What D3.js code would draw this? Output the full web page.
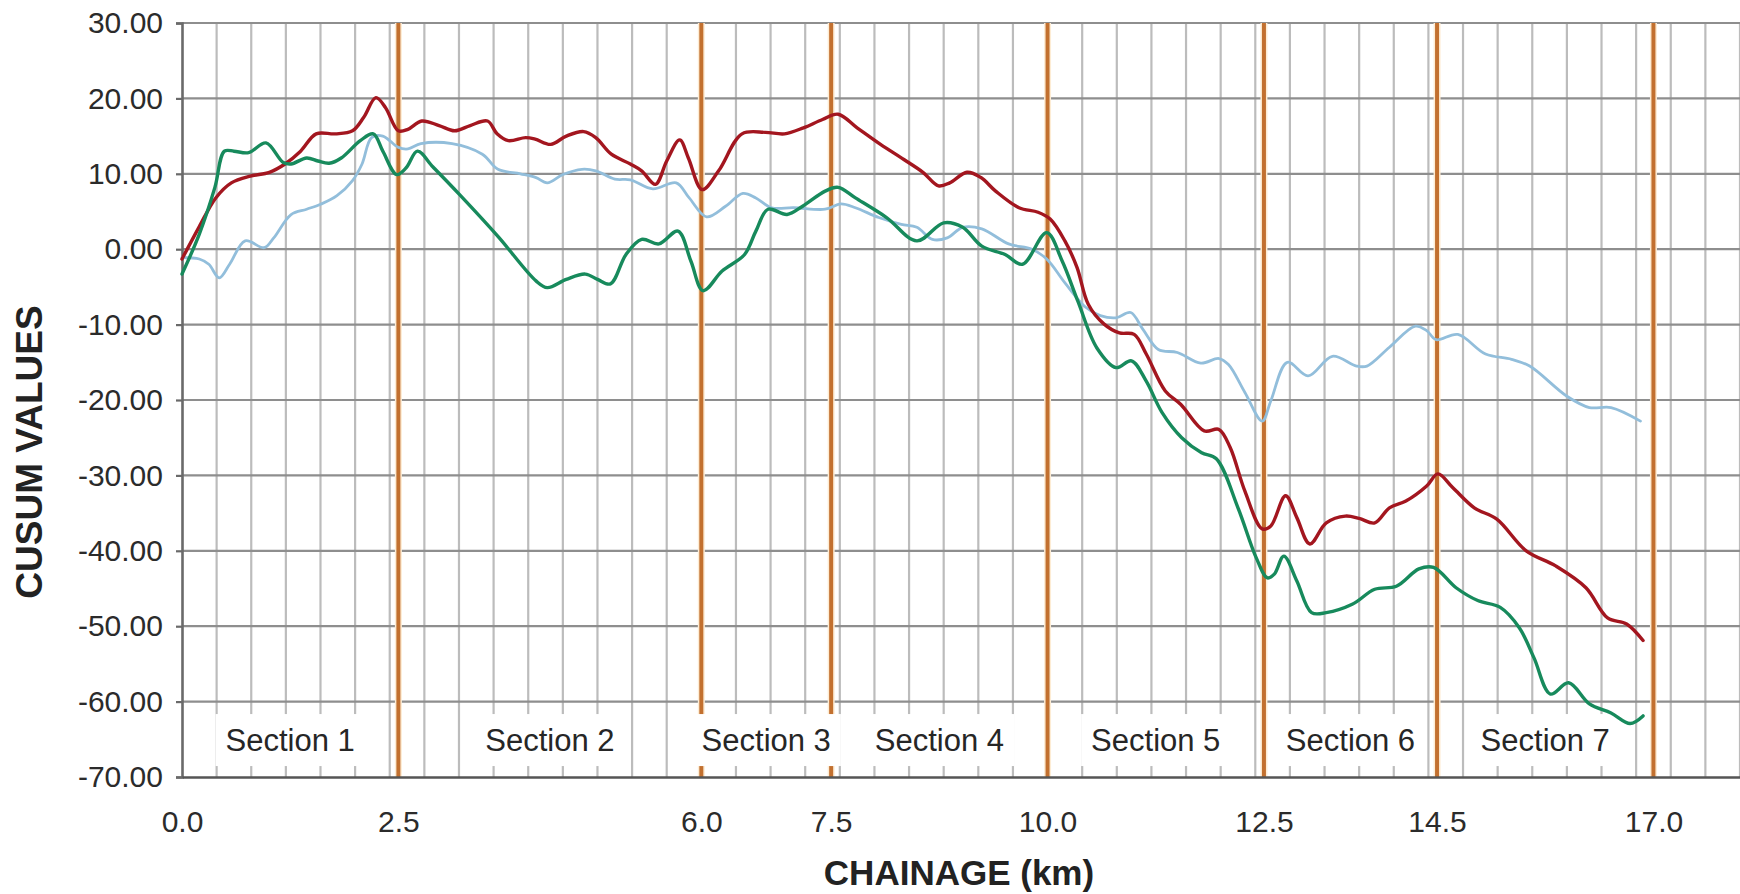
<!DOCTYPE html>
<html>
<head>
<meta charset="utf-8">
<script src="https://cdn.jsdelivr.net/npm/d3@7"></script>
<style>
  html, body { margin: 0; padding: 0; background: #ffffff; }
  svg { display: block; }
  text { font-family: "Liberation Sans", Arial, sans-serif; }
</style>
</head>
<body>
<svg id="chart" width="1740" height="894"></svg>
<script>
// Section boundaries along the road (km) and their axis labels
const sectionBounds = [0, 2.5, 6.0, 7.5, 10.0, 12.5, 14.5, 17.0];
const sectionNames = ["Section 1", "Section 2", "Section 3", "Section 4", "Section 5", "Section 6", "Section 7"];
const yTicks = [-70, -60, -50, -40, -30, -20, -10, 0, 10, 20, 30];

// CUSUM series: [chainage km, cusum value]
const cusumRed = [
  [0.00, -1.3], [0.20, 3.0], [0.39, 6.8], [0.57, 8.8], [0.79, 9.7], [1.01, 10.2], [1.19, 11.3],
  [1.37, 13.0], [1.55, 15.3], [1.77, 15.3], [1.97, 15.7], [2.10, 17.5], [2.24, 20.1], [2.35, 18.8],
  [2.50, 15.7], [2.61, 15.9], [2.77, 17.0], [2.97, 16.4], [3.15, 15.7], [3.33, 16.4], [3.53, 17.0],
  [3.64, 15.3], [3.77, 14.4], [3.97, 14.8], [4.08, 14.6], [4.26, 13.9], [4.44, 15.0], [4.64, 15.6],
  [4.78, 14.8], [4.96, 12.6], [5.18, 11.3], [5.31, 10.4], [5.47, 8.6], [5.60, 11.7], [5.75, 14.5],
  [5.85, 12.1], [6.01, 7.9], [6.20, 10.4], [6.47, 15.3], [6.74, 15.5], [6.96, 15.3], [7.18, 16.1],
  [7.40, 17.2], [7.58, 17.9], [7.80, 16.1], [8.07, 13.9], [8.34, 11.9], [8.56, 10.2], [8.74, 8.4],
  [8.87, 8.8], [9.07, 10.2], [9.23, 9.5], [9.40, 7.7], [9.67, 5.5], [9.89, 4.9], [10.03, 4.0],
  [10.20, 1.1], [10.34, -2.4], [10.47, -7.3], [10.65, -9.9], [10.83, -11.1], [11.00, -11.3],
  [11.14, -13.9], [11.36, -18.8], [11.54, -20.6], [11.81, -24.1], [11.98, -23.9], [12.11, -26.3],
  [12.28, -32.1], [12.48, -37.1], [12.58, -36.7], [12.75, -32.7], [12.88, -35.6], [13.03, -39.1],
  [13.22, -36.3], [13.44, -35.4], [13.60, -35.7], [13.78, -36.3], [13.95, -34.3], [14.14, -33.4],
  [14.38, -31.4], [14.51, -29.8], [14.68, -31.6], [14.93, -34.3], [15.19, -35.8], [15.53, -40.0],
  [15.87, -42.0], [16.22, -44.9], [16.47, -48.9], [16.69, -49.7], [16.88, -51.9]
];

const cusumGreen = [
  [0.00, -3.3], [0.20, 2.0], [0.38, 8.2], [0.49, 13.0], [0.60, 13.0], [0.77, 12.8], [0.97, 14.1],
  [1.17, 11.5], [1.26, 11.3], [1.44, 12.1], [1.57, 11.7], [1.70, 11.4], [1.84, 12.1], [2.06, 14.4],
  [2.21, 15.3], [2.32, 13.0], [2.48, 9.9], [2.59, 10.8], [2.72, 13.0], [2.90, 10.9], [3.21, 7.2],
  [3.65, 1.7], [4.09, -4.2], [4.22, -5.1], [4.44, -4.0], [4.66, -3.3], [4.80, -4.0], [4.95, -4.6],
  [5.13, -0.7], [5.31, 1.3], [5.51, 0.7], [5.73, 2.4], [5.88, -1.6], [6.02, -5.5], [6.24, -2.9],
  [6.50, -0.7], [6.63, 2.4], [6.77, 5.3], [6.99, 4.6], [7.17, 5.7], [7.43, 7.7], [7.58, 8.2],
  [7.78, 6.8], [8.14, 4.2], [8.49, 1.1], [8.80, 3.5], [9.02, 2.9], [9.24, 0.4], [9.51, -0.7],
  [9.71, -2.0], [9.99, 2.2], [10.17, -1.6], [10.35, -6.9], [10.57, -13.1], [10.79, -15.7],
  [10.97, -14.8], [11.14, -17.5], [11.32, -21.6], [11.55, -25.0], [11.78, -27.0], [11.95, -27.8],
  [12.20, -34.3], [12.41, -40.9], [12.54, -43.6], [12.62, -43.1], [12.73, -40.7], [12.88, -44.0],
  [13.05, -48.2], [13.22, -48.2], [13.52, -47.1], [13.78, -45.1], [14.03, -44.7], [14.29, -42.4],
  [14.46, -42.2], [14.72, -44.9], [14.97, -46.6], [15.23, -47.5], [15.45, -50.2], [15.62, -54.2],
  [15.81, -59.0], [16.02, -57.5], [16.26, -60.3], [16.51, -61.5], [16.73, -62.9], [16.88, -61.9]
];

const cusumBlue = [
  [0.00, -1.1], [0.20, -1.3], [0.31, -2.0], [0.43, -3.8], [0.55, -2.0], [0.73, 1.1], [0.95, 0.2],
  [1.06, 1.5], [1.26, 4.6], [1.44, 5.3], [1.61, 6.0], [1.79, 7.1], [1.97, 9.1], [2.08, 11.3],
  [2.19, 14.8], [2.32, 15.0], [2.50, 13.5], [2.61, 13.3], [2.76, 14.0], [3.12, 14.0], [3.47, 12.6],
  [3.65, 10.6], [3.91, 10.0], [4.09, 9.5], [4.22, 8.8], [4.40, 9.9], [4.62, 10.6], [4.78, 10.4],
  [5.00, 9.3], [5.18, 9.2], [5.44, 8.0], [5.71, 8.8], [5.86, 6.8], [6.06, 4.3], [6.28, 5.7],
  [6.48, 7.4], [6.63, 6.8], [6.81, 5.5], [7.07, 5.5], [7.43, 5.3], [7.61, 6.0], [7.78, 5.5],
  [8.05, 4.2], [8.31, 3.3], [8.49, 2.9], [8.67, 1.3], [8.84, 1.5], [9.02, 2.9], [9.24, 2.7],
  [9.55, 0.7], [9.82, 0.0], [9.99, -1.3], [10.21, -4.6], [10.44, -7.7], [10.61, -8.8],
  [10.79, -9.1], [10.96, -8.4], [11.10, -10.6], [11.28, -13.3], [11.50, -13.7], [11.77, -15.1],
  [11.98, -14.5], [12.09, -15.3], [12.28, -19.0], [12.48, -22.8], [12.58, -20.1], [12.77, -15.0],
  [13.01, -16.8], [13.29, -14.2], [13.57, -15.5], [13.69, -15.5], [13.95, -13.0], [14.25, -10.2],
  [14.38, -10.8], [14.49, -12.0], [14.74, -11.3], [15.06, -13.9], [15.36, -14.6], [15.57, -15.5],
  [16.00, -19.5], [16.26, -21.0], [16.51, -21.0], [16.85, -22.8]
];

const seriesList = [
  { data: cusumBlue,  color: "#92bedb", width: 2.8 },
  { data: cusumRed,   color: "#a3161f", width: 3.4 },
  { data: cusumGreen, color: "#178a5c", width: 3.4 }
];

const plot = { left: 182, right: 1740, top: 23, bottom: 777 };
const gridStep = 0.4;      // km between vertical grid lines
const xMax = 18;

const svg = d3.select("#chart");
const x = d3.scaleLinear().domain([0, xMax]).range([plot.left, plot.right]);
const y = d3.scaleLinear().domain([-70, 30]).range([plot.bottom, plot.top]);

const fmt = d3.formatLocale({ decimal: ".", thousands: ",", grouping: [3], currency: ["", ""], minus: "-" });

// vertical grid
const vGrid = d3.range(1, Math.round(xMax / gridStep) + 1).map(k => k * gridStep);
svg.append("g").selectAll("line").data(vGrid).join("line")
  .attr("x1", d => x(d)).attr("x2", d => x(d))
  .attr("y1", y(30)).attr("y2", y(-70))
  .attr("stroke", "#bcbcbc").attr("stroke-width", 2.2);

// horizontal grid
svg.append("g").selectAll("line").data(yTicks.filter(v => v > -70)).join("line")
  .attr("x1", plot.left).attr("x2", plot.right)
  .attr("y1", d => y(d)).attr("y2", d => y(d))
  .attr("stroke", "#8e8e8e").attr("stroke-width", 2.2);

// section boundary markers
const bounds = svg.append("g");
bounds.selectAll("line.halo").data(sectionBounds.slice(1)).join("line")
  .attr("class", "halo")
  .attr("x1", d => x(d)).attr("x2", d => x(d))
  .attr("y1", y(30)).attr("y2", y(-70))
  .attr("stroke", "#fdecd4").attr("stroke-width", 7);
bounds.selectAll("line.core").data(sectionBounds.slice(1)).join("line")
  .attr("class", "core")
  .attr("x1", d => x(d)).attr("x2", d => x(d))
  .attr("y1", y(30)).attr("y2", y(-70))
  .attr("stroke", "#c2702f").attr("stroke-width", 4);

// section labels on white boxes
const sections = sectionNames.map((name, i) => ({ name, mid: (sectionBounds[i] + sectionBounds[i + 1]) / 2 }));
const labelY = y(-65.1);
const secG = svg.append("g").selectAll("g").data(sections).join("g");
secG.append("text")
  .attr("x", d => x(d.mid)).attr("y", labelY)
  .attr("text-anchor", "middle").attr("dominant-baseline", "central")
  .attr("font-size", 31).attr("fill", "#262626")
  .text(d => d.name);
secG.insert("rect", "text")
  .each(function () {
    const t = d3.select(this.parentNode).select("text").node().getBBox();
    d3.select(this)
      .attr("x", t.x - 10).attr("width", t.width + 20)
      .attr("y", labelY - 26).attr("height", 52)
      .attr("fill", "#ffffff");
  });

// axes
const yAxis = d3.axisLeft(y).tickValues(yTicks).tickFormat(fmt.format(".2f"))
  .tickSize(6).tickPadding(13);
const gy = svg.append("g").attr("transform", `translate(${plot.left},0)`).call(yAxis);
gy.select(".domain").attr("stroke", "#6a6a6a").attr("stroke-width", 2.6);
gy.selectAll(".tick line").attr("stroke", "#6a6a6a").attr("stroke-width", 2.2);
gy.selectAll(".tick text").attr("font-size", 30).attr("fill", "#2b2b2b")
  .attr("font-family", "Liberation Sans, Arial, sans-serif");

const xAxis = d3.axisBottom(x).tickValues(sectionBounds).tickFormat(fmt.format(".1f"))
  .tickSize(0).tickSizeOuter(0).tickPadding(34);
const gx = svg.append("g").attr("transform", `translate(0,${plot.bottom})`).call(xAxis);
gx.select(".domain").attr("stroke", "#555555").attr("stroke-width", 2.6);
gx.selectAll(".tick text").attr("font-size", 30).attr("fill", "#2b2b2b")
  .attr("font-family", "Liberation Sans, Arial, sans-serif");

// axis titles
svg.append("text")
  .attr("x", (plot.left + plot.right) / 2 - 2).attr("y", 885)
  .attr("text-anchor", "middle").attr("font-size", 35).attr("font-weight", "bold").attr("fill", "#222")
  .text("CHAINAGE (km)");
svg.append("text")
  .attr("transform", "translate(42,452) rotate(-90)")
  .attr("text-anchor", "middle").attr("font-size", 37).attr("font-weight", "bold").attr("fill", "#222")
  .text("CUSUM VALUES");

// CUSUM curves
const line = d3.line().x(d => x(d[0])).y(d => y(d[1])).curve(d3.curveCatmullRom.alpha(0.5));
svg.append("g").selectAll("path").data(seriesList).join("path")
  .attr("d", d => line(d.data))
  .attr("fill", "none")
  .attr("stroke", d => d.color)
  .attr("stroke-width", d => d.width)
  .attr("stroke-linejoin", "round").attr("stroke-linecap", "round");
</script>
</body>
</html>
